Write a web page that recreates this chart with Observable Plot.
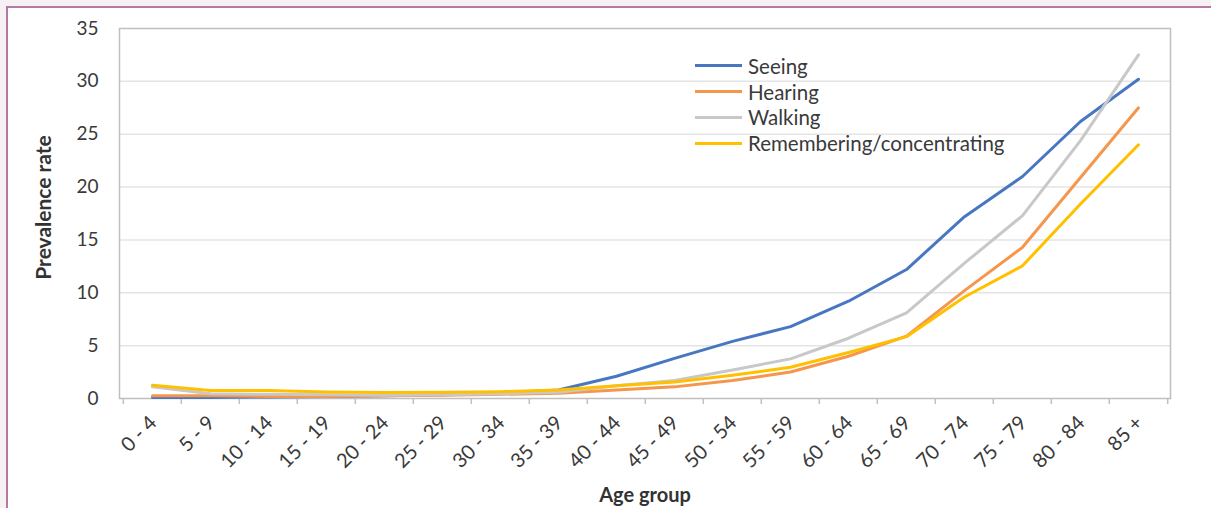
<!DOCTYPE html>
<html>
<head>
<meta charset="utf-8">
<script src="https://cdn.jsdelivr.net/npm/d3@7"></script>
<script src="https://cdn.jsdelivr.net/npm/@observablehq/plot@0.6"></script>
<style>
  html, body { margin: 0; padding: 0; background: #f6f1f3; }
  #wrap { position: relative; width: 1211px; height: 508px; overflow: hidden; font-family: Lato, sans-serif; }
  #sheet { position: absolute; left: 6px; top: 6px; right: 0; bottom: 0; background: #fff;
           border-left: 2px solid #b878a6; border-top: 2px solid #b878a6; }
  #chart { position: absolute; left: 0; top: 0; }
  #legend { position: absolute; left: 695px; top: 53px; color: #3a3a3a; font-size: 20.5px; }
  #legend .row { display: flex; align-items: center; height: 25.8px; }
  #legend .sw { width: 47px; height: 3px; margin-right: 6px; }
</style>
</head>
<body>
<div id="wrap">
  <div id="sheet"></div>
  <div id="chart"></div>
  <div id="legend"></div>
</div>
<script>
const ageGroups = ["0 - 4","5 - 9","10 - 14","15 - 19","20 - 24","25 - 29","30 - 34","35 - 39","40 - 44","45 - 49","50 - 54","55 - 59","60 - 64","65 - 69","70 - 74","75 - 79","80 - 84","85 +"];
const seriesNames = ["Seeing", "Hearing", "Walking", "Remembering/concentrating"];
const seeing      = [0.1, 0.1, 0.15, 0.2, 0.25, 0.35, 0.5, 0.8, 2.1, 3.8, 5.4, 6.8, 9.2, 12.2, 17.2, 21.0, 26.2, 30.2];
const hearing     = [0.25, 0.25, 0.2, 0.2, 0.25, 0.3, 0.4, 0.5, 0.8, 1.1, 1.7, 2.5, 4.0, 5.9, 10.2, 14.3, 20.9, 27.5];
const walking     = [1.1, 0.45, 0.4, 0.35, 0.3, 0.35, 0.45, 0.6, 1.2, 1.7, 2.7, 3.75, 5.7, 8.1, 12.8, 17.3, 24.4, 32.5];
const remembering = [1.25, 0.75, 0.75, 0.62, 0.57, 0.58, 0.65, 0.8, 1.2, 1.55, 2.2, 2.95, 4.35, 5.85, 9.6, 12.55, 18.4, 24.0];
const yTicks = [0, 5, 10, 15, 20, 25, 30, 35];
const colors = ["#4777c1", "#f5964c", "#c8c8c8", "#ffc000"];

const valuesBySeries = [seeing, hearing, walking, remembering];
const rows = [];
seriesNames.forEach((s, si) => {
  ageGroups.forEach((a, ai) => rows.push({series: s, age: a, value: valuesBySeries[si][ai]}));
});

const step = (1170 - 119) / ageGroups.length;

const chart = Plot.plot({
  width: 1211,
  height: 508,
  marginLeft: 119,
  marginRight: 41,
  marginTop: 28,
  marginBottom: 110,
  style: {background: "transparent", fontFamily: "Lato, sans-serif", fontSize: "19px", color: "#3a3a3a", overflow: "visible"},
  x: {type: "point", domain: ageGroups, padding: 0.5, align: 0.5},
  y: {domain: [0, 35], ticks: yTicks},
  color: {domain: seriesNames, range: colors},
  marks: [
    Plot.gridY(yTicks.filter(t => t > 0 && t < 35), {stroke: "#e4e4e4", strokeOpacity: 1, strokeWidth: 1.5}),
    Plot.frame({stroke: "#bfbfbf", strokeWidth: 1.5}),
    Plot.ruleX(ageGroups, {x: d => d, y1: 0, y2: 0, dx: -step / 2, insetBottom: -6, stroke: "#bfbfbf", strokeWidth: 1.5}),
    Plot.ruleX([ageGroups[ageGroups.length - 1]], {x: d => d, y1: 0, y2: 0, dx: step / 2, insetBottom: -6, stroke: "#bfbfbf", strokeWidth: 1.5}),
    Plot.axisY({ticks: yTicks, tickSize: 0, tickPadding: 21, label: null, fill: "#3a3a3a", fontSize: 19}),
    Plot.axisX({tickSize: 0, tickPadding: 21, dx: 1, tickRotate: -45, label: null, fill: "#3a3a3a", fontSize: 20}),
    Plot.line(rows, {x: "age", y: "value", z: "series", stroke: "series", strokeWidth: 3, strokeLinejoin: "round", strokeLinecap: "round"}),
    Plot.text(["Prevalence rate"], {frameAnchor: "left", textAnchor: "middle", lineAnchor: "middle", dx: -75, dy: -6, rotate: -90, fontWeight: "bold", fill: "#333", fontSize: 21}),
    Plot.text(["Age group"], {frameAnchor: "bottom", textAnchor: "middle", lineAnchor: "middle", dy: 97, fontWeight: "bold", fill: "#333", fontSize: 20})
  ]
});
document.getElementById("chart").appendChild(chart);

const legend = document.getElementById("legend");
seriesNames.forEach((s, i) => {
  const row = document.createElement("div");
  row.className = "row";
  const sw = document.createElement("span");
  sw.className = "sw";
  sw.style.background = colors[i];
  const lab = document.createElement("span");
  lab.textContent = s;
  row.appendChild(sw);
  row.appendChild(lab);
  legend.appendChild(row);
});
</script>
</body>
</html>
